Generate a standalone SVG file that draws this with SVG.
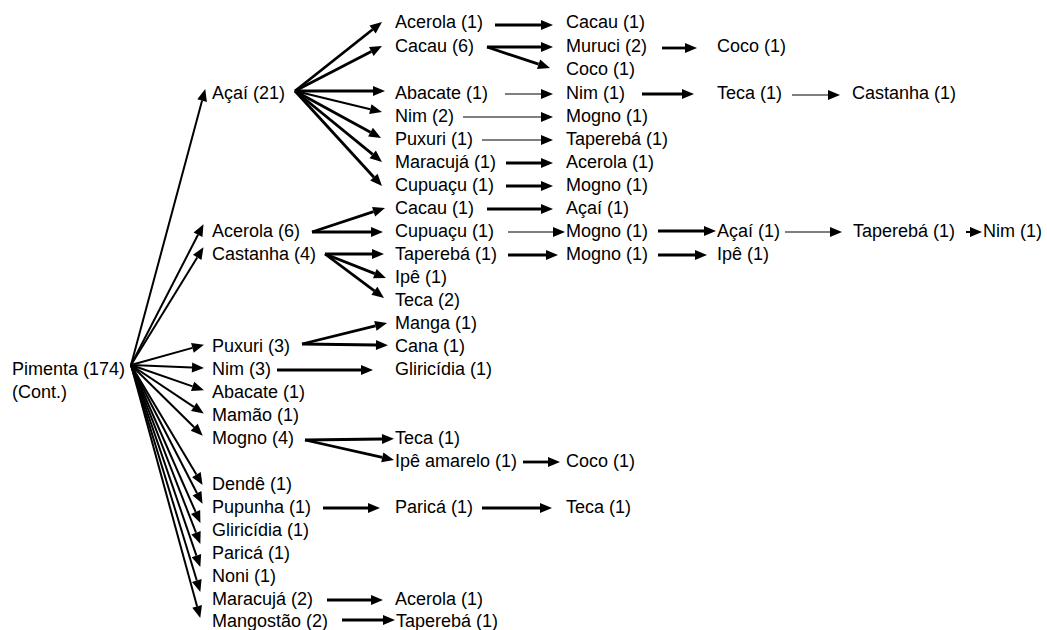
<svg xmlns="http://www.w3.org/2000/svg" width="1047" height="630" viewBox="0 0 1047 630">
  <style>
    text { font-family: "Liberation Sans", Arial, sans-serif; font-size: 18px; fill: #000; }
    .c line { stroke: #000; fill: none; marker-end: url(#ah); }
    .c .k { stroke-width: 2.8; }
    .c .m { stroke-width: 2; }
    .c .n { stroke-width: 1.2; }
  </style>
  <defs>
    <marker id="ah" markerUnits="userSpaceOnUse" markerWidth="13" markerHeight="10" refX="0" refY="5" orient="auto" overflow="visible">
      <path d="M0,0 L12,5 L0,10 Z" fill="#000"/>
    </marker>
  </defs>
  <rect width="1047" height="630" fill="#fff"/>

  <!-- connectors: each line stops at the base of its arrowhead -->
  <g id="connectors" class="c">
    <!-- Pimenta fan -->
    <line class="m" x1="131" y1="365" x2="202.1" y2="100.6"/>
    <line class="m" x1="131" y1="365" x2="198" y2="234.8"/>
    <line class="m" x1="131" y1="365" x2="197.2" y2="257.4"/>
    <line class="m" x1="131" y1="365" x2="192.4" y2="347.9"/>
    <line class="m" x1="131" y1="365" x2="192" y2="367.5"/>
    <line class="m" x1="131" y1="365" x2="192.6" y2="386.4"/>
    <line class="m" x1="131" y1="365" x2="193.8" y2="406.9"/>
    <line class="m" x1="131" y1="365" x2="194.2" y2="427.3"/>
    <line class="m" x1="131" y1="365" x2="196.4" y2="474.6"/>
    <line class="m" x1="131" y1="365" x2="197" y2="493.2"/>
    <line class="m" x1="131" y1="365" x2="195.6" y2="511.9"/>
    <line class="m" x1="131" y1="365" x2="196" y2="532.7"/>
    <line class="m" x1="131" y1="365" x2="196.4" y2="555.6"/>
    <line class="m" x1="131" y1="365" x2="196.8" y2="580.5"/>
    <line class="m" x1="131" y1="365" x2="197.1" y2="606.4"/>

    <!-- Açaí (21) fan -->
    <line class="k" x1="295" y1="91" x2="372.6" y2="29.5"/>
    <line class="k" x1="295" y1="91" x2="371.3" y2="51.5"/>
    <line class="k" x1="295" y1="91" x2="373" y2="91"/>
    <line class="m" x1="295" y1="91" x2="370.3" y2="109.2"/>
    <line class="k" x1="295" y1="91" x2="370.5" y2="132.2"/>
    <line class="k" x1="295" y1="91" x2="372.7" y2="154.4"/>
    <line class="k" x1="295" y1="91" x2="373.9" y2="177.2"/>

    <!-- Acerola (6) and Castanha (4) fans -->
    <line class="k" x1="312" y1="232" x2="373.6" y2="211.7"/>
    <line class="k" x1="312" y1="232" x2="371" y2="232"/>
    <line class="k" x1="325" y1="254" x2="372" y2="254"/>
    <line class="k" x1="325" y1="254" x2="374.8" y2="273.6"/>
    <line class="k" x1="325" y1="254" x2="374.4" y2="290.8"/>

    <!-- Puxuri (3), Nim (3), Mogno (4) -->
    <line class="k" x1="302" y1="344" x2="375.4" y2="325.9"/>
    <line class="k" x1="302" y1="344" x2="376" y2="345"/>
    <line class="k" x1="277" y1="370" x2="361" y2="370"/>
    <line class="k" x1="305" y1="440" x2="382" y2="439"/>
    <line class="k" x1="305" y1="440" x2="382.3" y2="457.4"/>

    <!-- upper chains -->
    <line class="k" x1="495" y1="25" x2="541" y2="25"/>
    <line class="k" x1="487" y1="47" x2="541" y2="47"/>
    <line class="k" x1="487" y1="47" x2="538.6" y2="64.2"/>
    <line class="k" x1="662" y1="48" x2="685" y2="48"/>
    <line class="n" x1="505" y1="94" x2="541" y2="94"/>
    <line class="k" x1="642" y1="94" x2="682" y2="94"/>
    <line class="n" x1="792" y1="95" x2="828" y2="95"/>
    <line class="n" x1="463" y1="117" x2="541" y2="117"/>
    <line class="n" x1="482" y1="140" x2="541" y2="140"/>
    <line class="k" x1="506" y1="163" x2="541" y2="163"/>
    <line class="k" x1="506" y1="186" x2="541" y2="186"/>
    <line class="k" x1="487" y1="209" x2="541" y2="209"/>
    <line class="n" x1="508" y1="232" x2="553" y2="232"/>
    <line class="k" x1="658" y1="231" x2="704" y2="231"/>
    <line class="n" x1="785" y1="232" x2="830" y2="232"/>
    <line class="m" x1="966" y1="232" x2="970" y2="232"/>
    <line class="k" x1="508" y1="255" x2="546" y2="255"/>
    <line class="k" x1="658" y1="255" x2="695" y2="255"/>

    <!-- lower chains -->
    <line class="k" x1="523" y1="462" x2="548" y2="462"/>
    <line class="k" x1="323" y1="508" x2="368" y2="508"/>
    <line class="k" x1="482" y1="508" x2="540" y2="508"/>
    <line class="k" x1="327" y1="600" x2="371" y2="600"/>
    <line class="k" x1="342" y1="620" x2="383" y2="620"/>
  </g>

  <!-- root -->
  <g id="pimenta">
    <text x="12" y="375">Pimenta (174)</text>
    <text x="12" y="398">(Cont.)</text>
  </g>

  <!-- second column -->
  <g id="acai-21"><text x="212" y="99">Açaí (21)</text></g>
  <g id="acerola-6"><text x="212" y="237">Acerola (6)</text></g>
  <g id="castanha-4"><text x="212" y="260">Castanha (4)</text></g>
  <g id="puxuri-3"><text x="212" y="352">Puxuri (3)</text></g>
  <g id="nim-3"><text x="212" y="375">Nim (3)</text></g>
  <g id="abacate-1"><text x="212" y="398">Abacate (1)</text></g>
  <g id="mamao-1"><text x="212" y="421">Mamão (1)</text></g>
  <g id="mogno-4"><text x="212" y="444">Mogno (4)</text></g>
  <g id="dende-1"><text x="212" y="490">Dendê (1)</text></g>
  <g id="pupunha-1"><text x="212" y="513">Pupunha (1)</text></g>
  <g id="gliricidia-1"><text x="212" y="536">Gliricídia (1)</text></g>
  <g id="parica-1"><text x="212" y="559">Paricá (1)</text></g>
  <g id="noni-1"><text x="212" y="582">Noni (1)</text></g>
  <g id="maracuja-2"><text x="212" y="605">Maracujá (2)</text></g>
  <g id="mangostao-2"><text x="212" y="627">Mangostão (2)</text></g>

  <!-- third column -->
  <g id="c3-acerola"><text x="395" y="28">Acerola (1)</text></g>
  <g id="c3-cacau-6"><text x="395" y="52">Cacau (6)</text></g>
  <g id="c3-abacate"><text x="395" y="99">Abacate (1)</text></g>
  <g id="c3-nim-2"><text x="395" y="122">Nim (2)</text></g>
  <g id="c3-puxuri"><text x="395" y="145">Puxuri (1)</text></g>
  <g id="c3-maracuja"><text x="395" y="168">Maracujá (1)</text></g>
  <g id="c3-cupuacu-a"><text x="395" y="191">Cupuaçu (1)</text></g>
  <g id="c3-cacau"><text x="395" y="214">Cacau (1)</text></g>
  <g id="c3-cupuacu-b"><text x="395" y="237">Cupuaçu (1)</text></g>
  <g id="c3-taperaba"><text x="395" y="260">Taperebá (1)</text></g>
  <g id="c3-ipe"><text x="395" y="283">Ipê (1)</text></g>
  <g id="c3-teca-2"><text x="395" y="306">Teca (2)</text></g>
  <g id="c3-manga"><text x="395" y="329">Manga (1)</text></g>
  <g id="c3-cana"><text x="395" y="352">Cana (1)</text></g>
  <g id="c3-gliricidia"><text x="395" y="375">Gliricídia (1)</text></g>
  <g id="c3-teca"><text x="395" y="444">Teca (1)</text></g>
  <g id="c3-ipe-amarelo"><text x="395" y="467">Ipê amarelo (1)</text></g>
  <g id="c3-parica"><text x="395" y="513">Paricá (1)</text></g>
  <g id="c3-acerola-b"><text x="395" y="605">Acerola (1)</text></g>
  <g id="c3-taperaba-b"><text x="396" y="627">Taperebá (1)</text></g>

  <!-- fourth column -->
  <g id="c4-cacau"><text x="566" y="28">Cacau (1)</text></g>
  <g id="c4-muruci"><text x="566" y="52">Muruci (2)</text></g>
  <g id="c4-coco"><text x="566" y="75">Coco (1)</text></g>
  <g id="c4-nim"><text x="566" y="99">Nim (1)</text></g>
  <g id="c4-mogno-a"><text x="566" y="122">Mogno (1)</text></g>
  <g id="c4-taperaba"><text x="566" y="145">Taperebá (1)</text></g>
  <g id="c4-acerola"><text x="566" y="168">Acerola (1)</text></g>
  <g id="c4-mogno-b"><text x="566" y="191">Mogno (1)</text></g>
  <g id="c4-acai"><text x="566" y="214">Açaí (1)</text></g>
  <g id="c4-mogno-c"><text x="566" y="237">Mogno (1)</text></g>
  <g id="c4-mogno-d"><text x="566" y="260">Mogno (1)</text></g>
  <g id="c4-coco-b"><text x="566" y="467">Coco (1)</text></g>
  <g id="c4-teca"><text x="566" y="513">Teca (1)</text></g>

  <!-- fifth column and beyond -->
  <g id="c5-coco"><text x="717" y="52">Coco (1)</text></g>
  <g id="c5-teca"><text x="717" y="99">Teca (1)</text></g>
  <g id="c5-acai"><text x="717" y="237">Açaí (1)</text></g>
  <g id="c5-ipe"><text x="717" y="260">Ipê (1)</text></g>
  <g id="c6-castanha"><text x="852" y="99">Castanha (1)</text></g>
  <g id="c6-taperaba"><text x="853" y="237">Taperebá (1)</text></g>
  <g id="c7-nim"><text x="983" y="237">Nim (1)</text></g>
</svg>
